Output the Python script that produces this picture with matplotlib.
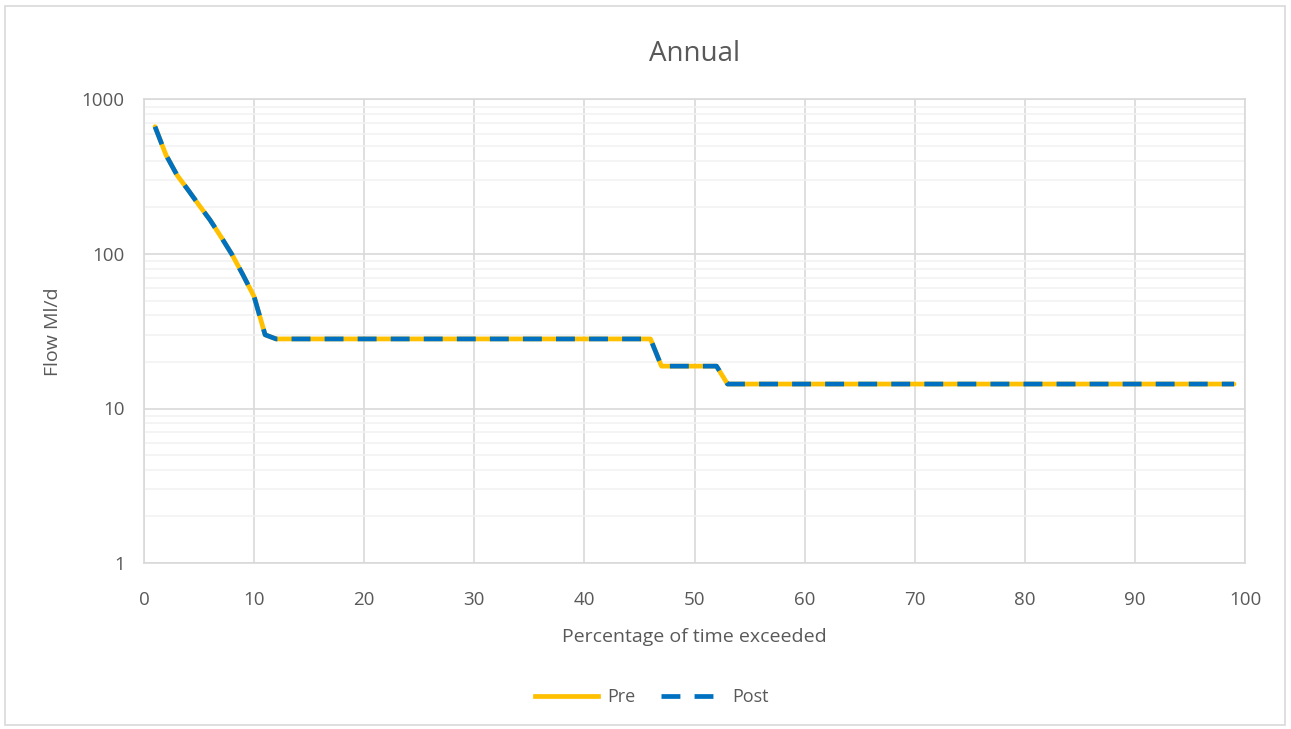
import matplotlib
matplotlib.use("Agg")
import matplotlib.pyplot as plt
from matplotlib.patches import Rectangle
from matplotlib.lines import Line2D
from matplotlib.ticker import LogLocator, FixedLocator, NullFormatter, FuncFormatter

# ---- data ----
pct = list(range(1, 100))
head = [667, 437, 324, 260, 207, 166, 129, 99, 73, 53, 30]
pre_flow = head + [28.2] * (46 - 11) + [18.8] * (52 - 46) + [14.4] * (99 - 52)
post_flow = list(pre_flow)
series_names = ["Pre", "Post"]
title = "Annual"
xlabel = "Percentage of time exceeded"
ylabel = "Flow Ml/d"
xticks = list(range(0, 101, 10))
yticks = [1, 10, 100, 1000]

plt.rcParams['font.family'] = ['Open Sans', 'DejaVu Sans']
txt = '#595959'
pre_color = '#FFC000'
post_color = '#0070C0'
dash = (0, (4, 3))

fig = plt.figure(figsize=(12.91, 7.29), dpi=100)
fig.patches.append(Rectangle((5/1291, 4/729), 1280/1291, 719/729, transform=fig.transFigure,
                             fill=False, edgecolor='#D9D9D9', linewidth=1.2))
ax = fig.add_axes([144/1291, 1-563/729, (1245-144)/1291, (563-99.5)/729])

ax.plot(pct, pre_flow, color=pre_color, linewidth=3.4, solid_capstyle='round', zorder=3)
ax.plot(pct, post_flow, color=post_color, linewidth=3.4, linestyle=dash, zorder=4)

ax.set_yscale('log')
ax.set_xlim(0, 100)
ax.set_ylim(1, 1000)
ax.xaxis.set_major_locator(FixedLocator(xticks))
ax.yaxis.set_major_locator(FixedLocator(yticks))
ax.yaxis.set_major_formatter(FuncFormatter(lambda v, p: f"{int(round(v))}"))
ax.yaxis.set_minor_locator(LogLocator(base=10, subs=range(2, 10)))
ax.yaxis.set_minor_formatter(NullFormatter())

ax.grid(True, which='major', axis='both', color='#D9D9D9', linewidth=1.2, zorder=1)
ax.grid(True, which='minor', axis='y', color='#F2F2F2', linewidth=1.2, zorder=0)
ax.set_axisbelow(True)
for s in ax.spines.values():
    s.set_color('#D9D9D9')
    s.set_linewidth(1.2)
ax.tick_params(which='both', length=0, colors=txt, labelsize=13.5)
ax.tick_params(axis='x', pad=20)
ax.tick_params(axis='y', pad=14)

ax.set_title(title, fontsize=20, color=txt, pad=28)
ax.set_xlabel(xlabel, fontsize=14, color=txt, labelpad=14)
ax.set_ylabel(ylabel, fontsize=14, color=txt, labelpad=14)

handles = [Line2D([], [], color=pre_color, linewidth=3.4),
           Line2D([], [], color=post_color, linewidth=3.4, linestyle=dash)]
leg = fig.legend(handles, series_names, loc='center', bbox_to_anchor=(652/1291, 1-697/729), ncol=2,
                 frameon=False, fontsize=13, handlelength=3.5, columnspacing=1.4, handletextpad=0.5)
for t in leg.get_texts():
    t.set_color(txt)

fig.savefig('out.png', dpi=100)
